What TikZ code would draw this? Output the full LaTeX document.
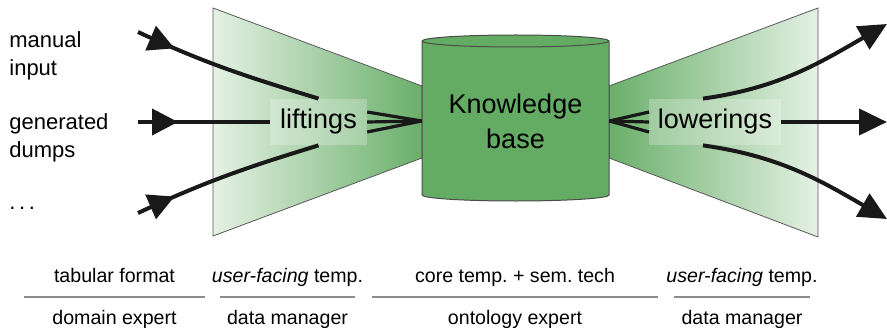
\documentclass[tikz,border=0pt]{standalone}
\usepackage{fontspec}
\setmainfont{Liberation Sans}
\usetikzlibrary{arrows.meta, decorations.markings}
\definecolor{kbgreen}{HTML}{64AC64}
\definecolor{fandark}{HTML}{6AAF6A}
\definecolor{fanlight}{HTML}{E4F1E4}
\definecolor{rulegray}{HTML}{8C8C8C}
\frenchspacing

\begin{document}
\begin{tikzpicture}[x=0.5pt, y=0.5pt,
  flow/.style={line width=2pt, black!90},
  endtip/.style={-{Triangle[length=14pt, width=13pt]}},
  midtip/.style={decoration={markings, mark=at position 20pt with {\arrow{Triangle[length=13pt, width=13pt]}}}, postaction={decorate}},
  fan/.style={draw=black!65, line width=0.4pt},
  stage/.style={fill=white, fill opacity=0.25, text opacity=1, font=\fontsize{13.5}{16}\selectfont, minimum height=23pt, inner xsep=5pt},
  source/.style={anchor=west, align=left, inner sep=0pt, font=\fontsize{11}{14}\selectfont},
  role/.style={anchor=base, inner sep=0pt, font=\fontsize{9.8}{12}\selectfont},
  sep/.style={rulegray, line width=1pt}]
  \useasboundingbox (0,0) rectangle (887,327);

  % Fans
  \shadedraw[fan, left color=fanlight, right color=fandark] (213,319) -- (422,241) -- (422,169) -- (213,91) -- cycle;
  \shadedraw[fan, left color=fandark, right color=fanlight] (609,241) -- (818,319) -- (818,90) -- (609,169) -- cycle;

  % Cylinder
  \filldraw[fill=kbgreen, draw=black!70, line width=0.5pt] (422,286) -- (422,132)
    arc[start angle=180, end angle=360, x radius=46.75pt, y radius=3pt] -- (609,286)
    arc[start angle=0, end angle=180, x radius=46.75pt, y radius=3pt] -- cycle;
  \draw[black!70, line width=0.5pt] (422,286) arc[start angle=180, end angle=360, x radius=46.75pt, y radius=3pt];

  % Nodes
  \node[font=\fontsize{13.5}{17.5}\selectfont, align=center, minimum width=93.5pt, minimum height=77pt, inner sep=0pt] (kb) at (515.5,206) {Knowledge\\base};
  \node[stage] (lift) at (318.5,205) {liftings};
  \node[stage, inner xsep=4.25pt] (low) at (715,205) {lowerings};

  \node[source] (manual) at (9,271) {manual\\input};
  \node[source] (dumps) at (9,189) {generated\\dumps};
  \node[source] (more) at (9,119) {.\,.\,.};

  \coordinate (in1) at (138,295);
  \coordinate (in2) at (138,205);
  \coordinate (in3) at (138,114);
  \coordinate (out1) at (887,303);
  \coordinate (out2) at (887,205);
  \coordinate (out3) at (887,108);

  % Inputs
  \draw[flow, midtip] (in1) to[out=-25, in=163] (lift.north);
  \draw[flow, midtip] (in2) -- (lift.west);
  \draw[flow, midtip] (in3) to[out=25, in=-163] (lift.south);
  \foreach \dy in {5pt, 0pt, -5pt}
    \draw[line width=1.6pt, black!90] ([yshift=\dy]lift.east) -- (kb.west);

  % Outputs
  \foreach \dy in {5pt, 0pt, -5pt}
    \draw[line width=1.6pt, black!90] (kb.east) -- ([yshift=\dy]low.west);
  \draw[flow, endtip] ([xshift=-6pt]low.north) to[out=8, in=-150] (out1);
  \draw[flow, endtip] (low.east) -- (out2);
  \draw[flow, endtip] ([xshift=-6pt]low.south) to[out=-8, in=150] (out3);

  % Roles
  \node[role] (fmt) at (114.5,45) {tabular format};
  \node[role] (utemp1) at (287.5,45) {\textit{user-facing} temp.};
  \node[role] (core) at (515,45) {core temp. + sem. tech};
  \node[role] (utemp2) at (742,45) {\textit{user-facing} temp.};
  \foreach \a/\b in {24/205, 220/355, 372/658, 674/810}
    \draw[sep] (\a,30) -- (\b,30);
  \node[role] (domain) at (114.5,3) {domain expert};
  \node[role] (mgr1) at (287.5,3) {data manager};
  \node[role] (onto) at (515,3) {ontology expert};
  \node[role] (mgr2) at (742,3) {data manager};
\end{tikzpicture}
\end{document}
